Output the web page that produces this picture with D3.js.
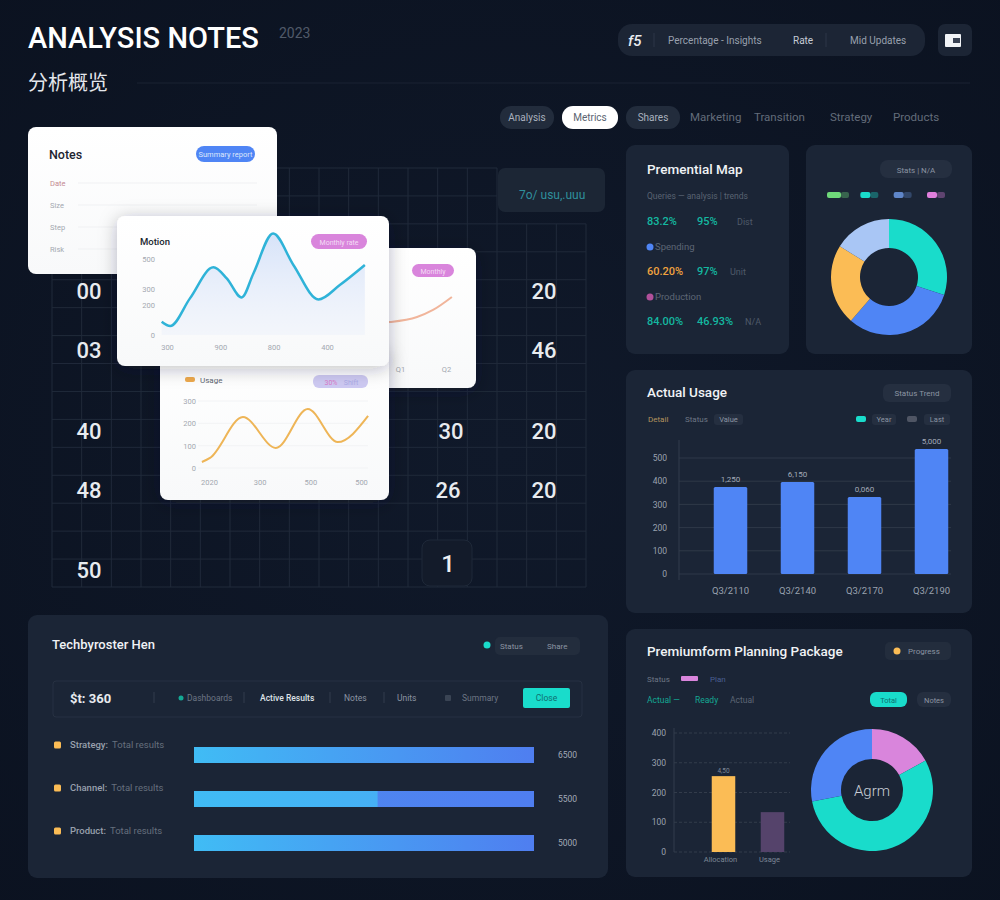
<!DOCTYPE html>
<html>
<head>
<meta charset="utf-8">
<script src="https://cdn.jsdelivr.net/npm/d3@7"></script>
<style>
  html, body { margin: 0; padding: 0; background: #0e1626; }
  svg { display: block; }
  text { font-family: Roboto, "Noto Sans CJK SC", sans-serif; }
</style>
</head>
<body>
<div id="chart"></div>
<script>
// creating a frame
const FRAME_WIDTH = 1000;
const FRAME_HEIGHT = 900;

const PANEL = "#1b2536", PILL = "#252f40";
const TEAL = "#19dccb", BLUE = "#4f85f5", ORANGE = "#fbbc55", PINK = "#d985dc";

// floating white cards
const blueX = [-0.1, 0.06, 0.43, 0.87, 1.12, 1.4, 1.62, 1.99, 2.37, 2.84, 3.24, 3.71];
const blueY = [87, 59, 241, 445, 372, 247, 405, 668, 461, 234, 329, 461];
const blueYTicks = [0, 200, 300, 500];
const blueXTicks = [300, 900, 800, 400];

const orangeX = [-0.14, 0.02, 0.67, 1.32, 1.95, 2.54, 3.14];
const orangeY = [27, 45, 228, 90, 264, 116, 233];
const orangeYTicks = [0, 100, 200, 300];
const orangeXTicks = [2020, 300, 500, 500];

const peachX = [-0.6, -0.22, 0.44, 0.83, 1.29];
const peachY = [205, 211, 239, 278, 350];
const peachXTicks = ["Q1", "Q2"];

const notesRows = ["Date", "Size", "Step", "Risk"];

// numbers laid on the dark grid
const gridLabels = ["00", "03", "40", "48", "50", "20", "46", "30", "20", "26", "20"];

// metric rows panel
const metricFirst = ["83.2%", "Spending", "60.20%", "Production", "84.00%"];
const metricSecond = ["95%", "", "97%", "", "46.93%"];
const metricThird = ["Dist", "", "Unit", "", "N/A"];

// top right donut
const shareNames = ["Teal", "Blue", "Orange", "Light"];
const shareValues = [30, 31.4, 22.5, 16.1];
const shareColors = [TEAL, BLUE, ORANGE, "#a9c6f5"];
const shareLegend = ["#6fd97a", TEAL, "#5f86c9", "#e07fdc"];

// actual usage bars
const usageCats = ["Q3/2110", "Q3/2140", "Q3/2170", "Q3/2190"];
const usageValues = [375, 397, 332, 539];
const usageLabels = ["1,250", "6,150", "0,060", "5,000"];
const usageTicks = [0, 100, 200, 300, 400, 500];

// horizontal progress bars
const rowNames = ["Strategy:", "Channel:", "Product:"];
const rowNotes = ["Total results", "Total results", "Total results"];
const rowValues = [100, 100, 100];
const rowSplit = [0, 54, 0];
const rowLabels = ["6500", "5500", "5000"];

// planning panel
const planCats = ["Allocation", "Usage"];
const planValues = [255, 134];
const planColors = [ORANGE, "#55436b"];
const planTicks = [0, 100, 200, 300, 400];
const planShare = [17, 55, 28];
const planShareColors = [PINK, TEAL, BLUE];

const svg = d3.select("#chart").append("svg")
    .attr("width", FRAME_WIDTH)
    .attr("height", FRAME_HEIGHT);

const defs = svg.append("defs");

const shadow = defs.append("filter").attr("id", "shadow")
    .attr("x", "-20%").attr("y", "-20%").attr("width", "140%").attr("height", "140%");
shadow.append("feDropShadow")
    .attr("dx", 0).attr("dy", 3).attr("stdDeviation", 9)
    .attr("flood-color", "#1a2233").attr("flood-opacity", 0.28);

function gradient(id, stops, vertical) {
  const g = defs.append("linearGradient").attr("id", id)
      .attr("x1", 0).attr("y1", 0)
      .attr("x2", vertical ? 0 : 1).attr("y2", vertical ? 1 : 0);
  stops.forEach(s => {
    g.append("stop").attr("offset", s[0]).attr("stop-color", s[1]).attr("stop-opacity", s[2] === undefined ? 1 : s[2]);
  });
}
gradient("barFill", [[0, "#40bcf5"], [1, "#4f7ef0"]]);
gradient("barLeft", [[0, "#40bcf5"], [1, "#46b0f5"]]);
gradient("barRight", [[0, "#4e8cf1"], [1, "#4f7ef0"]]);
gradient("areaFill", [[0, "#bcd0f5", 0.6], [1, "#dfe8fa", 0.25]], true);
gradient("cardFill", [[0, "#ffffff"], [1, "#f8f9fa"]], true);

const backdrop = defs.append("radialGradient").attr("id", "backdrop").attr("r", "75%");
backdrop.append("stop").attr("offset", 0).attr("stop-color", "#10192a");
backdrop.append("stop").attr("offset", 1).attr("stop-color", "#0b1220");

function box(parent, x, y, w, h, r, fill) {
  return parent.append("rect")
      .attr("x", x).attr("y", y).attr("width", w).attr("height", h)
      .attr("rx", r).attr("fill", fill);
}

function label(parent, str, x, y, size, fill, anchor, weight) {
  return parent.append("text")
      .attr("x", x).attr("y", y)
      .attr("font-size", size)
      .attr("fill", fill)
      .attr("text-anchor", anchor || "start")
      .attr("font-weight", weight || 400)
      .text(str);
}

function styleAxis(g, color, size) {
  g.select(".domain").remove();
  g.selectAll("line").remove();
  g.selectAll("text").attr("fill", color).attr("font-size", size)
      .style("font-family", "Roboto, sans-serif");
}

function donut(parent, cx, cy, inner, outer, values, colors) {
  const pie = d3.pie().sort(null)(values);
  const arc = d3.arc().innerRadius(inner).outerRadius(outer);
  parent.append("g").attr("transform", "translate(" + cx + "," + cy + ")")
    .selectAll("path")
    .data(pie)
    .enter()
    .append("path")
      .attr("d", arc)
      .attr("fill", (d, i) => colors[i]);
}

function drawHeader() {
  const g = svg.append("g");
  box(g, 0, 0, FRAME_WIDTH, FRAME_HEIGHT, 0, "url(#backdrop)");
  label(g, "ANALYSIS NOTES", 28, 48, 29, "#ffffff", "start", 500);
  label(g, "2023", 279, 38, 14, "#515a69");
  label(g, "分析概览", 28, 90, 20, "#e4e7ec");
  g.append("line").attr("x1", 137).attr("x2", 970).attr("y1", 83).attr("y2", 83)
      .attr("stroke", "#1a2333");

  box(g, 618, 24, 307, 32, 14, "#1c2535");
  label(g, "f5", 628, 46, 15, "#e8ebef", "start", 500).attr("font-style", "italic");
  g.append("line").attr("x1", 654).attr("x2", 654).attr("y1", 33).attr("y2", 47).attr("stroke", "#2d3748");
  label(g, "Percentage - Insights", 668, 44, 10, "#98a0ad");
  label(g, "Rate", 793, 44, 10, "#c6ccd5");
  g.append("line").attr("x1", 826).attr("x2", 826).attr("y1", 33).attr("y2", 47).attr("stroke", "#2d3748");
  label(g, "Mid Updates", 850, 44, 10, "#98a0ad");
  box(g, 938, 24, 34, 32, 7, "#1c2535");
  box(g, 945, 34, 16, 13, 1, "#f2f4f7");
  box(g, 953, 38, 7, 5, 0, "#3a4354");

  const tabs = g.append("g");
  box(tabs, 500, 106, 54, 23, 11, "#222c3c");
  label(tabs, "Analysis", 527, 121, 10, "#aab2bf", "middle");
  box(tabs, 562, 106, 56, 23, 11, "#ffffff");
  label(tabs, "Metrics", 590, 121, 10, "#5b6472", "middle");
  box(tabs, 626, 106, 54, 23, 11, "#222c3c");
  label(tabs, "Shares", 653, 121, 10, "#aab2bf", "middle");
  label(tabs, "Marketing", 690, 121, 11.5, "#636c7a");
  label(tabs, "Transition", 754, 121, 11.5, "#636c7a");
  label(tabs, "Strategy", 830, 121, 11.5, "#636c7a");
  label(tabs, "Products", 893, 121, 11.5, "#636c7a");
}

function drawGrid() {
  const g = svg.append("g");
  const cols = d3.scaleLinear().domain([0, 18]).range([52, 586]);
  const rows = d3.scaleLinear().domain([0, 15]).range([168, 587]);

  // the top right corner of the grid stays empty behind the small box
  const corner = 2;
  const cornerCol = 15;

  g.selectAll("line.v")
    .data(d3.range(0, 19))
    .enter()
    .append("line")
      .attr("x1", d => cols(d)).attr("x2", d => cols(d))
      .attr("y1", d => d > cornerCol ? rows(corner) : rows(0)).attr("y2", rows(15))
      .attr("stroke", "#202a3a");

  g.selectAll("line.h")
    .data(d3.range(0, 16))
    .enter()
    .append("line")
      .attr("x1", cols(0)).attr("x2", d => d < corner ? cols(cornerCol) : cols(18))
      .attr("y1", d => rows(d)).attr("y2", d => rows(d))
      .attr("stroke", "#202a3a");

  const numberX = [89, 89, 89, 89, 89, 544, 544, 451, 544, 448, 544];
  const numberY = [299, 358, 439, 498, 578, 299, 358, 439, 439, 498, 498];
  g.selectAll("text")
    .data(gridLabels)
    .enter()
    .append("text")
      .attr("x", (d, i) => numberX[i])
      .attr("y", (d, i) => numberY[i])
      .attr("text-anchor", "middle")
      .attr("font-size", 22)
      .attr("font-weight", 500)
      .attr("fill", "#e8ebef")
      .text(d => d);

  box(g, 498, 168, 107, 44, 7, "#1c2635");
  label(g, "7o/ usu,.uuu", 519, 199, 12, "#2f8f9c", "start");

  box(g, 422, 540, 50, 46, 8, "#131b2a").attr("stroke", "#1f2939");
  label(g, "1", 448, 572, 24, "#eef0f3", "middle", 500);
}

function drawNotesCard() {
  const g = svg.append("g");
  box(g, 28, 127, 249, 147, 8, "url(#cardFill)");
  label(g, "Notes", 49, 159, 12.5, "#1d2430", "start", 500);
  box(g, 196, 146, 59, 16, 8, BLUE);
  label(g, "Summary report", 225.5, 157, 7.5, "#dce7fb", "middle");

  const y = d3.scalePoint().domain(notesRows).range([183, 249]);
  g.selectAll("line.row")
    .data(notesRows)
    .enter()
    .append("line")
      .attr("x1", 78).attr("x2", 257)
      .attr("y1", d => y(d)).attr("y2", d => y(d))
      .attr("stroke", "#f0f1f3");
  g.selectAll("text.row")
    .data(notesRows)
    .enter()
    .append("text")
      .attr("x", 50).attr("y", d => y(d) + 3)
      .attr("font-size", 7.5)
      .attr("fill", (d, i) => i == 0 ? "#c48a92" : "#a3a8b0")
      .text(d => d);
}

function drawPeachCard() {
  const g = svg.append("g");
  box(g, 340, 248, 136, 140, 8, "url(#cardFill)").attr("filter", "url(#shadow)");
  box(g, 412, 264, 42, 13, 6.5, PINK);
  label(g, "Monthly", 433, 273.5, 7, "#f4dcf5", "middle");

  const x = d3.scaleLinear().domain([0, 1]).range([399, 440]);
  const y = d3.scaleLinear().domain([0, 500]).range([360, 270]);
  const line = d3.line().x(d => x(d[0])).y(d => y(d[1])).curve(d3.curveMonotoneX);
  g.append("path")
      .attr("d", line(d3.zip(peachX, peachY)))
      .attr("fill", "none").attr("stroke", "#f1b59b").attr("stroke-width", 2);

  const ticks = g.append("g").attr("transform", "translate(0,364)")
      .call(d3.axisBottom(d3.scalePoint().domain(peachXTicks).range([400, 446])).tickSize(0).tickPadding(3));
  styleAxis(ticks, "#a3a8b0", 7.5);
}

function drawOrangeCard() {
  const g = svg.append("g");
  box(g, 160, 350, 229, 150, 8, "url(#cardFill)").attr("filter", "url(#shadow)");
  box(g, 185, 377, 10, 5, 2, "#eda94d");
  label(g, "Usage", 200, 383, 8, "#5c6470");
  box(g, 313, 375, 55, 13, 6, "#cdc9f2");
  label(g, "30%", 331, 384.5, 7, "#d87bc8", "middle");
  label(g, "Shift", 351, 384.5, 7, "#aaa9e6", "middle");

  const x = d3.scaleLinear().domain([0, 3]).range([209, 361]);
  const y = d3.scaleLinear().domain([0, 300]).range([468, 401]);

  g.selectAll("line.grid")
    .data(orangeYTicks)
    .enter()
    .append("line")
      .attr("x1", 198).attr("x2", 368)
      .attr("y1", d => y(d)).attr("y2", d => y(d))
      .attr("stroke", "#f2f3f5");

  const line = d3.line().x(d => x(d[0])).y(d => y(d[1])).curve(d3.curveMonotoneX);
  g.append("path")
      .attr("d", line(d3.zip(orangeX, orangeY)))
      .attr("fill", "none").attr("stroke", "#eeb557").attr("stroke-width", 2);

  const left = g.append("g").attr("transform", "translate(196,0)")
      .call(d3.axisLeft(y).tickValues(orangeYTicks).tickSize(0).tickPadding(0));
  styleAxis(left, "#a3a8b0", 7.5);

  const bottom = g.append("g").attr("transform", "translate(0,478)")
      .call(d3.axisBottom(x).tickValues([0, 1, 2, 3]).tickFormat((d, i) => orangeXTicks[i]).tickSize(0).tickPadding(2));
  styleAxis(bottom, "#a3a8b0", 7.5);
}

function drawBlueCard() {
  const g = svg.append("g");
  box(g, 117, 216, 272, 150, 8, "url(#cardFill)").attr("filter", "url(#shadow)");
  label(g, "Motion", 140, 245, 9.5, "#20262f", "start", 500);
  box(g, 311, 234, 56, 15, 7.5, PINK);
  label(g, "Monthly rate", 339, 244.5, 7, "#f4dcf5", "middle");

  const x = d3.scaleLinear().domain([0, 3]).range([167, 327]);
  const y = d3.scaleLinear().domain([0, 500]).range([335, 259]);

  const area = d3.area().x(d => x(d[0])).y0(y(0)).y1(d => y(d[1])).curve(d3.curveMonotoneX);
  const line = d3.line().x(d => x(d[0])).y(d => y(d[1])).curve(d3.curveMonotoneX);

  g.append("path")
      .attr("d", area(d3.zip(blueX, blueY)))
      .attr("fill", "url(#areaFill)");
  g.append("path")
      .attr("d", line(d3.zip(blueX, blueY)))
      .attr("fill", "none").attr("stroke", "#2fb3d8").attr("stroke-width", 2.5);

  const left = g.append("g").attr("transform", "translate(155,0)")
      .call(d3.axisLeft(y).tickValues(blueYTicks).tickSize(0).tickPadding(0));
  styleAxis(left, "#a3a8b0", 7.5);

  const bottom = g.append("g").attr("transform", "translate(0,343)")
      .call(d3.axisBottom(x).tickValues([0, 1, 2, 3]).tickFormat((d, i) => blueXTicks[i]).tickSize(0).tickPadding(2));
  styleAxis(bottom, "#a3a8b0", 7.5);
}

function drawMetricsPanel() {
  const g = svg.append("g");
  box(g, 626, 145, 163, 209, 9, PANEL);
  label(g, "Premential Map", 647, 174, 13.5, "#f0f2f5", "start", 500);
  label(g, "Queries — analysis  |  trends", 647, 199, 8.5, "#596372");

  const rowColors = ["#14b8a0", BLUE, "#f0a33f", "#b0509a", "#14b8a0"];
  const thirdX = [737, 737, 730, 737, 745];
  const y = d3.scalePoint().domain(d3.range(metricFirst.length)).range([225, 325]);
  metricFirst.forEach((d, i) => {
    if (metricSecond[i] === "") {
      g.append("circle").attr("cx", 650).attr("cy", y(i) - 3).attr("r", 3.5).attr("fill", rowColors[i]);
      label(g, d, 655, y(i), 9.5, "#5d6675");
    } else {
      label(g, d, 647, y(i), 11, rowColors[i], "start", 500);
      label(g, metricSecond[i], 697, y(i), 11, "#14b8a0", "start", 500);
      label(g, metricThird[i], thirdX[i], y(i), 9, "#4f5a69");
    }
  });
}

function drawShareDonut() {
  const g = svg.append("g");
  box(g, 806, 145, 166, 209, 9, PANEL);
  box(g, 880, 160, 72, 18, 8, PILL);
  label(g, "Stats  |  N/A", 916, 172.5, 8, "#8b94a2", "middle");

  const x = d3.scalePoint().domain(shareNames).range([827, 927]);
  shareNames.forEach((d, i) => {
    box(g, x(d), 192, i == 0 ? 14 : 10, 6, 2, shareLegend[i]);
    box(g, x(d) + (i == 0 ? 14 : 10), 192, 8, 6, 2, shareLegend[i]).attr("opacity", 0.35);
  });

  donut(g, 889, 277, 29, 58, shareValues, shareColors);
}

function drawUsagePanel() {
  const g = svg.append("g");
  box(g, 626, 370, 346, 243, 9, PANEL);
  label(g, "Actual Usage", 647, 397, 13.5, "#f0f2f5", "start", 500);
  box(g, 883, 384, 68, 18, 6, PILL);
  label(g, "Status  Trend", 917, 396, 8, "#8b94a2", "middle");

  label(g, "Detail", 648, 422, 8, "#b3935e");
  label(g, "Status", 685, 422, 8, "#6d7684");
  box(g, 714, 414, 29, 11, 3, PILL);
  label(g, "Value", 728.5, 422, 7.5, "#8b94a2", "middle");
  box(g, 856, 416, 10, 6, 2, TEAL);
  box(g, 872, 414, 24, 11, 3, PILL);
  label(g, "Year", 884, 422, 7.5, "#8b94a2", "middle");
  box(g, 907, 416, 10, 6, 2, "#4f5564");
  box(g, 924, 414, 26, 11, 3, PILL);
  label(g, "Last", 937, 422, 7.5, "#8b94a2", "middle");

  const x = d3.scaleBand().domain(usageCats).range([697, 965]).paddingInner(0.5).paddingOuter(0.25);
  const y = d3.scaleLinear().domain([0, 500]).range([574, 458]);

  g.selectAll("line.grid")
    .data(usageTicks)
    .enter()
    .append("line")
      .attr("x1", 679).attr("x2", 951)
      .attr("y1", d => y(d)).attr("y2", d => y(d))
      .attr("stroke", "#2f3948");
  g.append("line").attr("x1", 679).attr("x2", 679).attr("y1", 440).attr("y2", 580).attr("stroke", "#333d4c");

  g.selectAll("rect.bar")
    .data(usageValues)
    .enter()
    .append("rect")
      .attr("x", (d, i) => x(usageCats[i]))
      .attr("y", d => y(d))
      .attr("width", x.bandwidth())
      .attr("height", d => y(0) - y(d))
      .attr("rx", 1.5)
      .attr("fill", BLUE);

  g.selectAll("text.value")
    .data(usageValues)
    .enter()
    .append("text")
      .attr("x", (d, i) => x(usageCats[i]) + x.bandwidth() / 2)
      .attr("y", d => y(d) - 5)
      .attr("text-anchor", "middle")
      .attr("font-size", 8)
      .attr("fill", "#a3abb8")
      .text((d, i) => usageLabels[i]);

  const left = g.append("g").attr("transform", "translate(667,0)")
      .call(d3.axisLeft(y).tickValues(usageTicks).tickSize(0).tickPadding(0));
  styleAxis(left, "#9aa2af", 8.5);

  const bottom = g.append("g").attr("transform", "translate(0,584)")
      .call(d3.axisBottom(x).tickSize(0).tickPadding(3));
  styleAxis(bottom, "#9aa2af", 9.5);
}

function drawRowsPanel() {
  const g = svg.append("g");
  box(g, 28, 615, 580, 263, 9, PANEL);
  label(g, "Techbyroster Hen", 52, 649, 13, "#f0f2f5", "start", 500);
  g.append("circle").attr("cx", 487).attr("cy", 645).attr("r", 3.5).attr("fill", TEAL);
  box(g, 495, 637, 85, 18, 5, "#232d3d");
  label(g, "Status", 500, 649, 8, "#8b94a2");
  label(g, "Share", 547, 649, 8, "#8b94a2");

  box(g, 53, 681, 529, 36, 3, "none").attr("stroke", "#273142");
  label(g, "$t: 360", 70, 703, 13, "#e8ebef", "start", 700);
  g.selectAll("line.sep")
    .data([154, 244, 330, 384])
    .enter()
    .append("line")
      .attr("x1", d => d).attr("x2", d => d)
      .attr("y1", 692).attr("y2", 703)
      .attr("stroke", "#333d4c");
  g.append("circle").attr("cx", 181).attr("cy", 698).attr("r", 2.5).attr("fill", "#14a894");
  label(g, "Dashboards", 187, 701, 8.5, "#6d7684");
  label(g, "Active Results", 260, 701, 8.5, "#dfe2e7", "start", 500);
  label(g, "Notes", 344, 701, 8.5, "#8b94a2");
  label(g, "Units", 397, 701, 8.5, "#8b94a2");
  box(g, 445, 695, 6, 6, 1, "#3a4454");
  label(g, "Summary", 462, 701, 8.5, "#6d7684");
  box(g, 523, 688, 47, 20, 2, TEAL);
  label(g, "Close", 546.5, 701, 8.5, "#0f6f70", "middle");

  const x = d3.scaleLinear().domain([0, 100]).range([194, 534]);
  const y = d3.scalePoint().domain(rowNames).range([747, 835]);
  const band = 16;

  rowNames.forEach((d, i) => {
    const mid = y(d) - 2 - i;
    g.append("rect").attr("x", 54).attr("y", mid - 3.5).attr("width", 7).attr("height", 7).attr("rx", 1.5).attr("fill", ORANGE);
    const t = label(g, d, 70, mid + 3, 9.5, "#98a0ad", "start", 500);
    t.append("tspan").attr("dx", 4).attr("fill", "#666f7d").attr("font-weight", 400).text(rowNotes[i]);
  });

  g.selectAll("rect.bar")
    .data(rowValues)
    .enter()
    .append("rect")
      .attr("x", x(0))
      .attr("y", (d, i) => y(rowNames[i]))
      .attr("width", d => x(d) - x(0))
      .attr("height", band)
      .attr("fill", (d, i) => rowSplit[i] ? "url(#barRight)" : "url(#barFill)");

  g.selectAll("rect.split")
    .data(rowSplit)
    .enter()
    .append("rect")
      .attr("x", x(0))
      .attr("y", (d, i) => y(rowNames[i]))
      .attr("width", d => x(d) - x(0))
      .attr("height", band)
      .attr("fill", "url(#barLeft)");

  g.selectAll("text.value")
    .data(rowLabels)
    .enter()
    .append("text")
      .attr("x", 558)
      .attr("y", (d, i) => y(rowNames[i]) + 11)
      .attr("font-size", 8.5)
      .attr("fill", "#a3abb8")
      .text(d => d);
}

function drawPlanPanel() {
  const g = svg.append("g");
  box(g, 626, 629, 346, 248, 9, PANEL);
  label(g, "Premiumform Planning Package", 647, 656, 13.5, "#f0f2f5", "start", 500);
  box(g, 885, 642, 66, 18, 5, "#232d3d");
  g.append("circle").attr("cx", 897).attr("cy", 651).attr("r", 3.5).attr("fill", ORANGE);
  label(g, "Progress", 908, 654, 8, "#8b94a2");

  label(g, "Status", 647, 682, 8, "#6d7684");
  box(g, 681, 676, 17, 5, 1, PINK);
  label(g, "Plan", 710, 682, 8, "#4a5f92");
  label(g, "Actual —", 647, 703, 8.5, "#14a894");
  label(g, "Ready", 695, 703, 8.5, "#14a894");
  label(g, "Actual", 730, 703, 8.5, "#5d6675");
  box(g, 870, 692, 37, 15, 6, TEAL);
  label(g, "Total", 888.5, 702.5, 7.5, "#0f6f70", "middle");
  box(g, 917, 692, 34, 15, 6, PILL);
  label(g, "Notes", 934, 702.5, 7.5, "#8b94a2", "middle");

  const x = d3.scaleBand().domain(planCats).range([699, 797]).paddingInner(0.52).paddingOuter(0.26);
  const y = d3.scaleLinear().domain([0, 400]).range([852, 733]);

  g.selectAll("line.grid")
    .data(planTicks)
    .enter()
    .append("line")
      .attr("x1", 674).attr("x2", 790)
      .attr("y1", d => y(d)).attr("y2", d => y(d))
      .attr("stroke", "#333c4b")
      .attr("stroke-dasharray", "3 2");
  g.append("line").attr("x1", 674).attr("x2", 674).attr("y1", 728).attr("y2", 852).attr("stroke", "#333d4c");

  g.selectAll("rect.bar")
    .data(planValues)
    .enter()
    .append("rect")
      .attr("x", (d, i) => x(planCats[i]))
      .attr("y", d => y(d))
      .attr("width", x.bandwidth())
      .attr("height", d => y(0) - y(d))
      .attr("fill", (d, i) => planColors[i]);

  label(g, "4,50", x(planCats[0]) + x.bandwidth() / 2, y(planValues[0]) - 3, 6.5, "#7d8797", "middle");

  const left = g.append("g").attr("transform", "translate(666,0)")
      .call(d3.axisLeft(y).tickValues(planTicks).tickSize(0).tickPadding(0));
  styleAxis(left, "#9aa2af", 8.5);

  const bottom = g.append("g").attr("transform", "translate(-3,854)")
      .call(d3.axisBottom(x).tickSize(0).tickPadding(3));
  styleAxis(bottom, "#7d8797", 7.5);

  donut(g, 872, 790, 31, 61, planShare, planShareColors);
  label(g, "Agrm", 872, 796, 15, "#c9ced6", "middle", 300);
}

drawHeader();
drawGrid();
drawNotesCard();
drawPeachCard();
drawOrangeCard();
drawBlueCard();
drawMetricsPanel();
drawShareDonut();
drawUsagePanel();
drawRowsPanel();
drawPlanPanel();
</script>
</body>
</html>
